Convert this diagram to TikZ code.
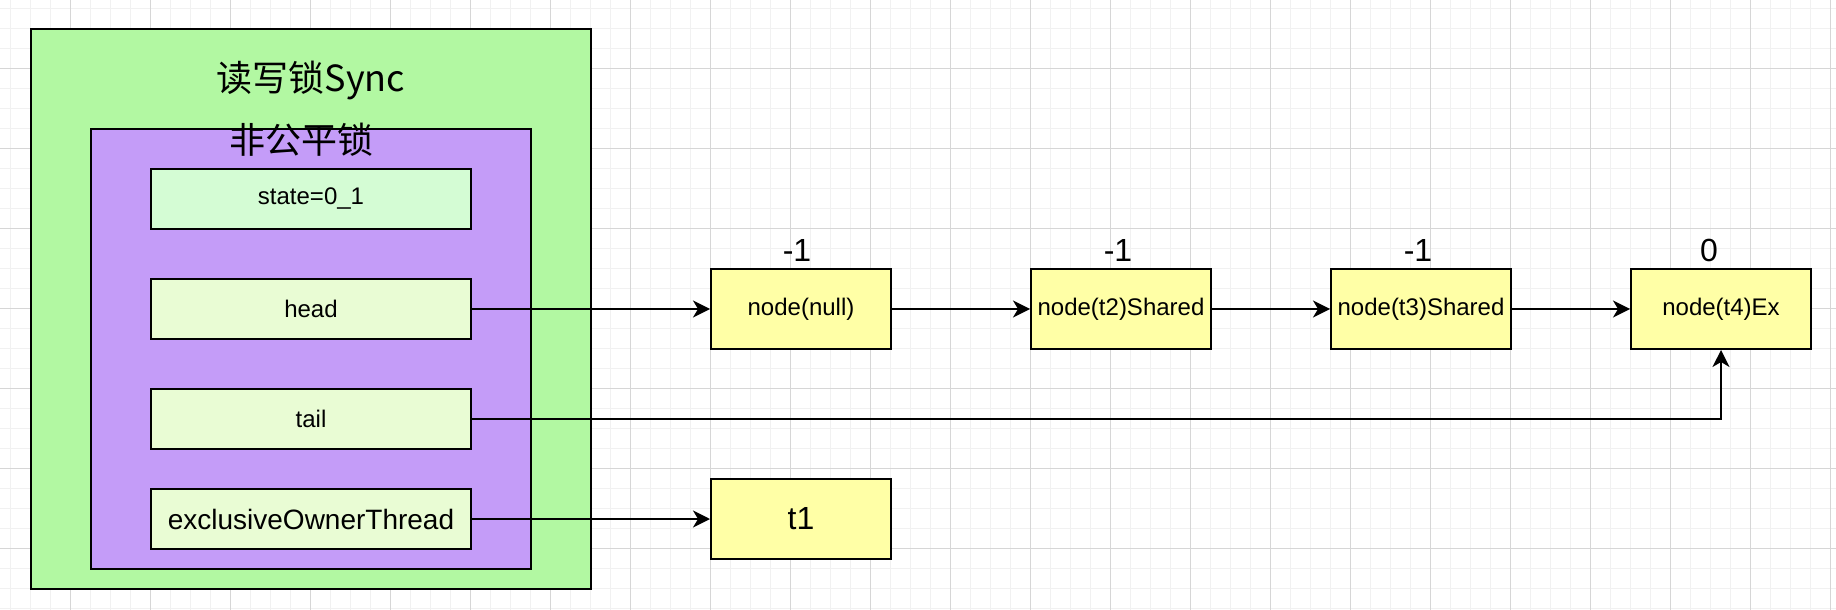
\documentclass[tikz,border=0pt]{standalone}
\usepackage{fontspec}
\setmainfont{Liberation Sans}
\newfontfamily\cjk{Noto Sans CJK SC}
\usepackage{tikz}
\usetikzlibrary{arrows.meta}

\definecolor{syncgreen}{HTML}{B2F8A2}
\definecolor{lockpurple}{HTML}{C49CF8}
\definecolor{statemint}{HTML}{D4FCD4}
\definecolor{fieldlime}{HTML}{E9FCD4}
\definecolor{qyellow}{HTML}{FFFFA6}
\definecolor{gridminor}{HTML}{F1F1F1}
\definecolor{gridmajor}{HTML}{D6D6D6}

\begin{document}
\begin{tikzpicture}[x=1pt, y=-1pt,
    box/.style={draw, line width=2pt, inner sep=2pt},
    field/.style={box, fill=fieldlime, minimum width=320pt, minimum height=60pt, font=\fontsize{24}{28}\selectfont},
    queue node/.style={box, fill=qyellow, minimum width=180pt, minimum height=80pt, font=\fontsize{24}{28}\selectfont},
    ws/.style={font=\fontsize{32}{36}\selectfont, inner sep=0pt},
    title/.style={font=\cjk\fontsize{36}{40}\selectfont, inner sep=0pt},
    arr/.style={line width=2pt, -{Stealth[length=17pt, width=17pt, inset=5pt]}},
    node distance=110pt]
    \useasboundingbox (0,0) rectangle (1836,610);

    % grid
    \foreach \gx in {10,30,...,1830} \draw[gridminor, line width=1pt] (\gx,0) -- (\gx,610);
    \foreach \gy in {8.3,28.3,...,609} \draw[gridminor, line width=1pt] (0,\gy) -- (1836,\gy);
    \foreach \gx in {70,150,...,1830} \draw[gridmajor, line width=1pt] (\gx,0) -- (\gx,610);
    \foreach \gy in {68.3,148.3,...,609} \draw[gridmajor, line width=1pt] (0,\gy) -- (1836,\gy);

    \node[box, fill=syncgreen, minimum width=560pt, minimum height=560pt] (sync) at (311,309) {};
    \node[box, fill=lockpurple, minimum width=440pt, minimum height=440pt] (lock) at (311,349) {};
    \node[title] (synctitle) at (311,80) {读写锁Sync};
    \node[title] (locktitle) at (301,140) {非公平锁};

    \node[field, fill=statemint] (state) at (311,199) {state=0\_1};
    \node[field] (head) [below of=state] {head};
    \node[field] (tail) [below of=head] {tail};
    \node[field, font=\fontsize{28}{32}\selectfont] (owner) at (311,519) {exclusiveOwnerThread};

    \node[queue node] (null) at (801,309) {node(null)};
    \node[queue node] (t2) at (1121,309) {node(t2)Shared};
    \node[queue node] (t3) at (1421,309) {node(t3)Shared};
    \node[queue node] (t4) at (1721,309) {node(t4)Ex};
    \node[queue node, font=\fontsize{32}{36}\selectfont] (t1) at (801,519) {t1};

    \node[ws] (wnull) at (797,250) {-1};
    \node[ws] (wt2) at (1118,250) {-1};
    \node[ws] (wt3) at (1418,250) {-1};
    \node[ws] (wt4) at (1709,250) {0};

    \draw[arr] (head) -- (null);
    \draw[arr] (null) -- (t2);
    \draw[arr] (t2) -- (t3);
    \draw[arr] (t3) -- (t4);
    \draw[arr] (tail) -| (t4);
    \draw[arr] (owner) -- (t1);
\end{tikzpicture}
\end{document}
